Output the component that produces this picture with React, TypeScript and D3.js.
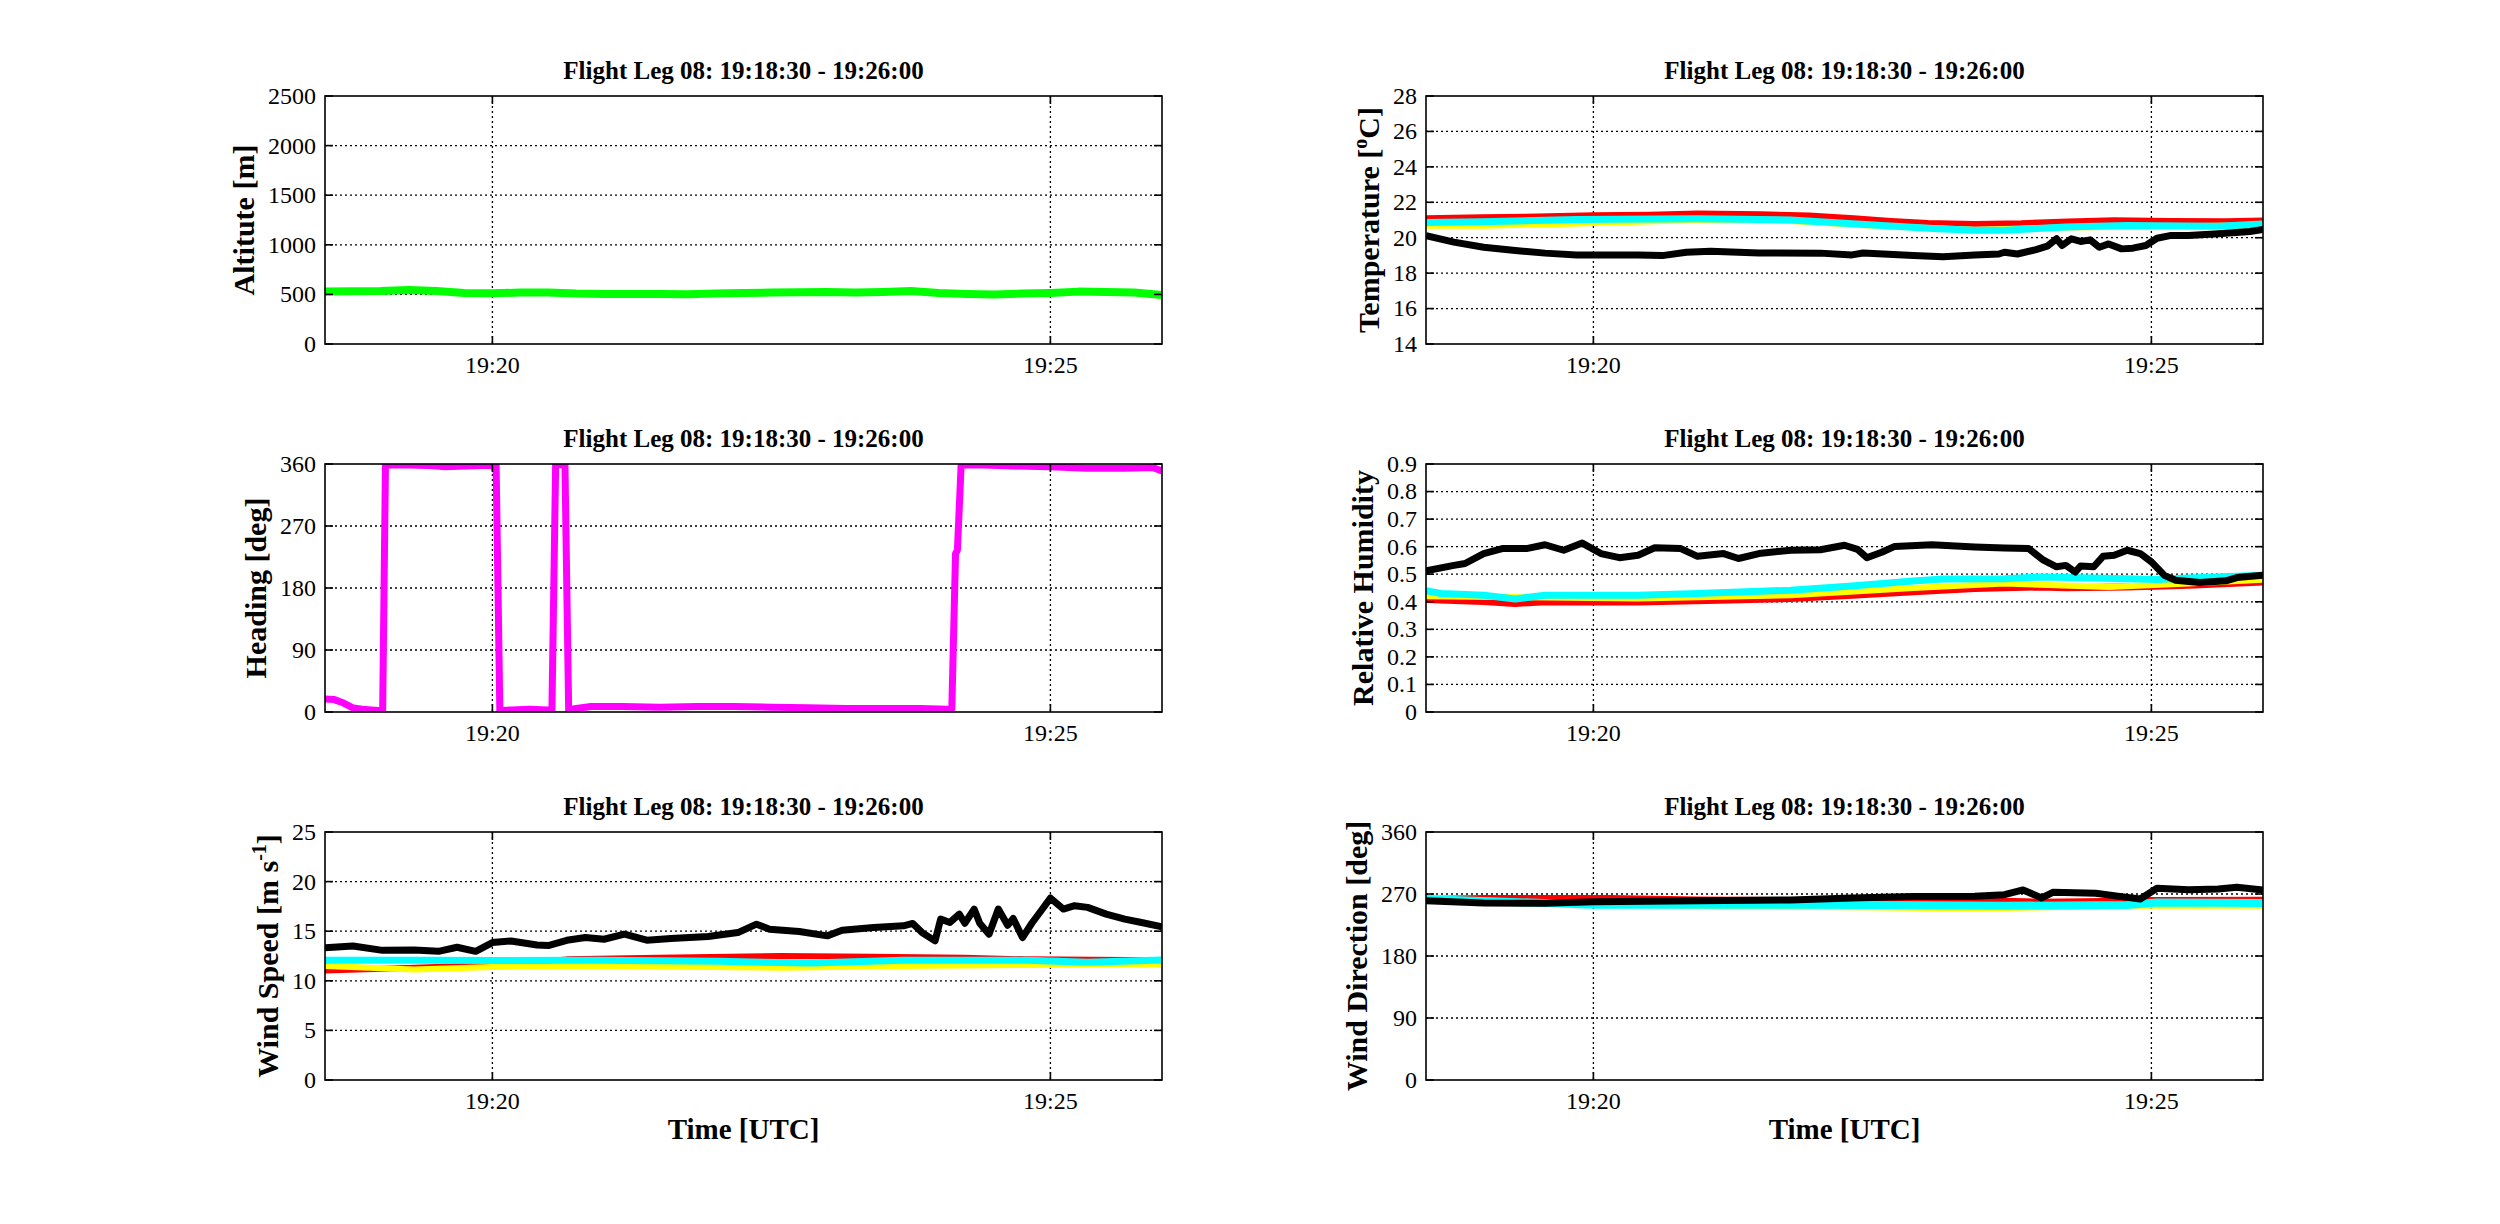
import React from 'react';
import * as d3 from 'd3';

type Pt = [number, number];

const WIDTH = 2500;
const HEIGHT = 1224;
const FONT = '"Liberation Serif", "Times New Roman", Times, serif';
const TITLE = 'Flight Leg 08: 19:18:30 - 19:26:00';

// time axis, seconds after 19:18:30
const T_END = 450;
const timeTicks = [90, 390];
const timeTickLabels = ['19:20', '19:25'];

// altitude [m]
const altitude: Pt[] = [
  [0, 530], [15, 532], [30, 535], [45, 545], [60, 535], [75, 515], [90, 512], [105, 518],
  [120, 520], [135, 508], [150, 505], [165, 503], [180, 505], [195, 502], [210, 508],
  [225, 515], [240, 518], [255, 522], [270, 525], [285, 520], [300, 525], [315, 535],
  [330, 515], [345, 505], [360, 500], [375, 508], [390, 515], [405, 528], [420, 525],
  [435, 520], [450, 495],
];

// heading [deg]
const heading: Pt[] = [
  [0, 19], [5, 18], [10, 13], [15, 6], [20, 4], [25, 3], [31, 2], [32.5, 358], [40, 359],
  [55, 358], [65, 356], [75, 357], [85, 358], [92, 358], [94, 2], [100, 3], [110, 4],
  [120, 3], [122, 3], [124, 359], [128, 359], [129, 360], [131, 3], [135, 5], [143, 8],
  [160, 8], [180, 7], [200, 8], [220, 8], [240, 7], [260, 6], [280, 5], [300, 5], [320, 5],
  [335, 4], [337, 5], [339, 230], [340, 235], [342, 358], [350, 359], [370, 357],
  [390, 356], [410, 354], [430, 354], [445, 355], [450, 350],
];

// temperature [C]
const tempRed: Pt[] = [
  [0, 21.1], [30, 21.15], [60, 21.2], [90, 21.27], [120, 21.3], [146, 21.37], [180, 21.32],
  [206, 21.25], [230, 21.1], [250, 20.95], [270, 20.83], [295, 20.78], [320, 20.82],
  [345, 20.92], [370, 20.98], [400, 20.95], [430, 20.93], [450, 20.97],
];
const tempYellow: Pt[] = [
  [0, 20.68], [30, 20.68], [81, 20.8], [146, 21.0], [196, 20.95], [245, 20.65],
  [295, 20.45], [344, 20.58], [450, 20.7],
];
const tempCyan: Pt[] = [
  [0, 20.86], [30, 20.9], [81, 21.03], [146, 21.07], [196, 21.0], [245, 20.69], [275, 20.5],
  [295, 20.42], [311, 20.42], [344, 20.6], [377, 20.69], [426, 20.65], [450, 20.78],
];
const tempBlack: Pt[] = [
  [0, 20.12], [15, 19.75], [31, 19.46], [48, 19.28], [64, 19.13], [81, 19.03], [114, 19.03],
  [127, 18.99], [140, 19.18], [153, 19.24], [179, 19.14], [212, 19.13], [229, 19.03],
  [235, 19.14], [262, 19.0], [278, 18.93], [295, 19.03], [308, 19.08], [311, 19.18],
  [318, 19.08], [328, 19.33], [334, 19.52], [339, 19.94], [342, 19.56], [347, 19.94],
  [352, 19.79], [357, 19.88], [362, 19.46], [367, 19.65], [374, 19.37], [380, 19.41],
  [387, 19.56], [393, 19.97], [400, 20.12], [410, 20.12], [426, 20.22], [443, 20.35],
  [450, 20.46],
];

// relative humidity
const rhRed: Pt[] = [
  [0, 0.408], [31, 0.401], [48, 0.394], [64, 0.4], [114, 0.399], [163, 0.406], [196, 0.412],
  [229, 0.424], [262, 0.436], [295, 0.448], [331, 0.454], [344, 0.451], [377, 0.454],
  [410, 0.46], [450, 0.472],
];
const rhYellow: Pt[] = [
  [0, 0.42], [114, 0.412], [196, 0.424], [262, 0.45], [311, 0.466], [367, 0.454],
  [410, 0.466], [450, 0.48],
];
const rhCyan: Pt[] = [
  [0, 0.44], [8, 0.43], [31, 0.424], [48, 0.41], [64, 0.424], [114, 0.424], [146, 0.43],
  [196, 0.442], [229, 0.457], [262, 0.475], [278, 0.483], [311, 0.484], [331, 0.49],
  [377, 0.484], [393, 0.481], [410, 0.486], [450, 0.496],
];
const rhBlack: Pt[] = [
  [0, 0.512], [15, 0.532], [21, 0.539], [31, 0.575], [41, 0.593], [54, 0.593], [64, 0.607],
  [74, 0.587], [84, 0.613], [94, 0.575], [104, 0.56], [114, 0.569], [123, 0.596],
  [137, 0.593], [146, 0.565], [160, 0.575], [168, 0.557], [179, 0.575], [196, 0.587],
  [212, 0.589], [225, 0.605], [232, 0.59], [237, 0.56], [245, 0.58], [252, 0.601],
  [272, 0.607], [295, 0.599], [311, 0.595], [324, 0.593], [332, 0.551], [339, 0.527],
  [344, 0.532], [349, 0.508], [352, 0.53], [359, 0.527], [364, 0.565], [370, 0.569],
  [377, 0.587], [384, 0.575], [390, 0.545], [397, 0.496], [403, 0.478], [416, 0.47],
  [430, 0.476], [436, 0.488], [450, 0.496],
];

// wind speed [m/s]
const wsRed: Pt[] = [
  [0, 11.05], [48, 11.32], [90, 11.59], [130, 12.16], [179, 12.33], [245, 12.5],
  [295, 12.43], [344, 12.33], [377, 12.16], [450, 12.06],
];
const wsYellow: Pt[] = [
  [0, 11.49], [48, 11.15], [90, 11.39], [146, 11.49], [245, 11.32], [311, 11.49],
  [377, 11.59], [450, 11.66],
];
const wsCyan: Pt[] = [
  [0, 12.07], [48, 12.07], [90, 12.04], [146, 12.07], [212, 11.96], [262, 11.79],
  [311, 12.07], [377, 12.07], [410, 11.86], [450, 12.09],
];
const wsBlack: Pt[] = [
  [0, 13.34], [15, 13.5], [31, 13.07], [48, 13.1], [61, 12.97], [71, 13.38], [81, 12.97],
  [90, 13.85], [100, 14.02], [114, 13.61], [120, 13.55], [130, 14.08], [140, 14.36],
  [150, 14.19], [161, 14.7], [173, 14.09], [186, 14.26], [206, 14.46], [222, 14.86],
  [232, 15.71], [239, 15.2], [255, 14.97], [270, 14.53], [278, 15.1], [295, 15.37],
  [311, 15.54], [316, 15.78], [321, 14.86], [328, 14.02], [331, 16.22], [336, 15.88],
  [341, 16.72], [344, 15.8], [349, 17.23], [352, 15.8], [357, 14.7], [362, 17.23],
  [367, 15.6], [370, 16.28], [375, 14.36], [380, 15.8], [385, 17.06], [390, 18.34],
  [397, 17.23], [403, 17.57], [410, 17.4], [420, 16.72], [430, 16.22], [439, 15.88],
  [450, 15.44],
];

// wind direction [deg]
const wdRed: Pt[] = [
  [0, 262.7], [31, 264.2], [100, 264.2], [146, 262], [235, 260.3], [311, 260.3],
  [331, 258.8], [374, 260.3], [390, 261.3], [450, 261.7],
];
const wdYellow: Pt[] = [
  [0, 260.3], [163, 251.5], [196, 251.5], [245, 250.5], [295, 249], [377, 252.9],
  [450, 252.9],
];
const wdCyan: Pt[] = [
  [0, 262.7], [30, 260], [90, 254.4], [146, 254.4], [196, 254.4], [245, 253.9],
  [311, 252.9], [377, 253.9], [393, 257.8], [450, 256.8],
];
const wdBlack: Pt[] = [
  [0, 260.3], [31, 256.9], [64, 256.5], [90, 258.8], [146, 260.3], [196, 261.3],
  [229, 264.2], [262, 266.2], [295, 266.6], [311, 269], [321, 275.9], [331, 264.2],
  [337, 272.4], [360, 271], [374, 266.2], [384, 262.7], [393, 278.3], [410, 276.3],
  [426, 277.3], [436, 279.8], [450, 275.9],
];

const altTicks = [0, 500, 1000, 1500, 2000, 2500];
const tempTicks = [14, 16, 18, 20, 22, 24, 26, 28];
const degTicks = [0, 90, 180, 270, 360];
const rhTicks = [0, 0.1, 0.2, 0.3, 0.4, 0.5, 0.6, 0.7, 0.8, 0.9];
const wsTicks = [0, 5, 10, 15, 20, 25];

// layout
const COL_LEFT = [325, 1426];
const ROW_TOP = [96, 464, 832];
const PW = 837;
const PH = 248;

type Seg = { t: string; sup?: boolean };
type Series = { data: Pt[]; color: string; width: number };
type PanelDef = {
  col: number; row: number; ticks: number[]; label: Seg[]; series: Series[]; xlabel?: boolean;
};

const RED = '#ff0000', YELLOW = '#ffff00', CYAN = '#00ffff', BLACK = '#000000';

const panels: PanelDef[] = [
  { col: 0, row: 0, ticks: altTicks, label: [{ t: 'Altitute [m]' }],
    series: [{ data: altitude, color: '#00ff00', width: 8 }] },
  { col: 1, row: 0, ticks: tempTicks, label: [{ t: 'Temperature [' }, { t: 'o', sup: true }, { t: 'C]' }],
    series: [
      { data: tempRed, color: RED, width: 6 },
      { data: tempYellow, color: YELLOW, width: 6 },
      { data: tempCyan, color: CYAN, width: 7 },
      { data: tempBlack, color: BLACK, width: 7 },
    ] },
  { col: 0, row: 1, ticks: degTicks, label: [{ t: 'Heading [deg]' }],
    series: [{ data: heading, color: '#ff00ff', width: 7 }] },
  { col: 1, row: 1, ticks: rhTicks, label: [{ t: 'Relative Humidity' }],
    series: [
      { data: rhRed, color: RED, width: 7 },
      { data: rhYellow, color: YELLOW, width: 6 },
      { data: rhCyan, color: CYAN, width: 7 },
      { data: rhBlack, color: BLACK, width: 7 },
    ] },
  { col: 0, row: 2, ticks: wsTicks, label: [{ t: 'Wind Speed [m s' }, { t: '-1', sup: true }, { t: ']' }],
    xlabel: true,
    series: [
      { data: wsRed, color: RED, width: 6 },
      { data: wsYellow, color: YELLOW, width: 6 },
      { data: wsCyan, color: CYAN, width: 7 },
      { data: wsBlack, color: BLACK, width: 7 },
    ] },
  { col: 1, row: 2, ticks: degTicks, label: [{ t: 'Wind Direction [deg]' }],
    xlabel: true,
    series: [
      { data: wdRed, color: RED, width: 6 },
      { data: wdYellow, color: YELLOW, width: 6 },
      { data: wdCyan, color: CYAN, width: 8 },
      { data: wdBlack, color: BLACK, width: 7 },
    ] },
];

let measureCtx: CanvasRenderingContext2D | null = null;
function textWidth(s: string, size: number) {
  if (!measureCtx) measureCtx = document.createElement('canvas').getContext('2d');
  if (!measureCtx) return s.length * size * 0.5;
  measureCtx.font = `${size}px "Liberation Serif"`;
  return measureCtx.measureText(s).width;
}

const fmtTick = (v: number) => String(+v.toFixed(2));

const Panel: React.FC<{ p: PanelDef; idx: number }> = ({ p, idx }) => {
  const left = COL_LEFT[p.col];
  const top = ROW_TOP[p.row];
  const x = d3.scaleLinear().domain([0, T_END]).range([left, left + PW]);
  const y = d3.scaleLinear().domain([p.ticks[0], p.ticks[p.ticks.length - 1]]).range([top + PH, top]);
  const line = d3.line<Pt>().x(d => x(d[0])).y(d => y(d[1]));
  const tickW = d3.max(p.ticks, t => textWidth(fmtTick(t), 24)) || 0;
  const labelX = left - tickW - 31;
  const cy = top + PH / 2;
  const clipId = `clip-${idx}`;
  const dots = '2 3';

  return (
    <g>
      <defs>
        <clipPath id={clipId}>
          <rect x={left} y={top} width={PW} height={PH} />
        </clipPath>
      </defs>
      {/* grid */}
      {p.ticks.slice(1, -1).map(t => (
        <line key={`gy${t}`} x1={left} x2={left + PW} y1={y(t)} y2={y(t)}
          stroke="#000" strokeWidth={1.3} strokeDasharray={dots} />
      ))}
      {timeTicks.map(t => (
        <line key={`gx${t}`} x1={x(t)} x2={x(t)} y1={top} y2={top + PH}
          stroke="#000" strokeWidth={1.3} strokeDasharray={dots} />
      ))}
      {/* data */}
      <g clipPath={`url(#${clipId})`}>
        {p.series.map((s, i) => (
          <path key={i} d={line(s.data) || ''} fill="none" stroke={s.color}
            strokeWidth={s.width} strokeLinejoin="round" strokeLinecap="butt" />
        ))}
      </g>
      {/* box and ticks */}
      <rect x={left} y={top} width={PW} height={PH} fill="none" stroke="#000" strokeWidth={1.6} />
      {p.ticks.map(t => (
        <g key={`ty${t}`}>
          <line x1={left} x2={left + 8} y1={y(t)} y2={y(t)} stroke="#000" strokeWidth={1.6} />
          <line x1={left + PW - 8} x2={left + PW} y1={y(t)} y2={y(t)} stroke="#000" strokeWidth={1.6} />
          <text x={left - 9} y={y(t)} dy="0.33em" textAnchor="end" fontSize={24} fontFamily={FONT}>
            {fmtTick(t)}
          </text>
        </g>
      ))}
      {timeTicks.map((t, i) => (
        <g key={`tx${t}`}>
          <line x1={x(t)} x2={x(t)} y1={top + PH - 8} y2={top + PH} stroke="#000" strokeWidth={1.6} />
          <line x1={x(t)} x2={x(t)} y1={top} y2={top + 8} stroke="#000" strokeWidth={1.6} />
          <text x={x(t)} y={top + PH + 29} textAnchor="middle" fontSize={24} fontFamily={FONT}>
            {timeTickLabels[i]}
          </text>
        </g>
      ))}
      {/* title */}
      <text x={left + PW / 2} y={top - 17} textAnchor="middle" fontSize={25} fontWeight="bold" fontFamily={FONT}>
        {TITLE}
      </text>
      {/* y label */}
      <text transform={`translate(${labelX + 7.5},${cy}) rotate(-90)`} textAnchor="middle"
        fontSize={30} fontWeight="bold" fontFamily={FONT}>
        {p.label.map((s, i) => s.sup
          ? <tspan key={i} dy={-12} fontSize={20}>{s.t}</tspan>
          : <tspan key={i} dy={i > 0 && p.label[i - 1].sup ? 12 : 0}>{s.t}</tspan>)}
      </text>
      {p.xlabel && (
        <text x={left + PW / 2} y={top + PH + 59} textAnchor="middle" fontSize={29} fontWeight="bold" fontFamily={FONT}>
          Time [UTC]
        </text>
      )}
    </g>
  );
};

const App: React.FC = () => (
  <svg width={WIDTH} height={HEIGHT} viewBox={`0 0 ${WIDTH} ${HEIGHT}`}
    style={{ position: 'absolute', left: 0, top: 0, background: '#fff' }}>
    <rect width={WIDTH} height={HEIGHT} fill="#fff" />
    {panels.map((p, i) => <Panel key={i} p={p} idx={i} />)}
  </svg>
);

export default App;
